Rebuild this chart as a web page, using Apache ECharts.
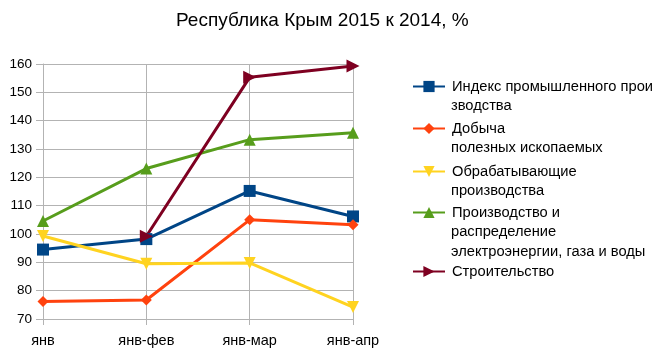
<!DOCTYPE html>
<html><head><meta charset="utf-8">
<script src="https://cdn.jsdelivr.net/npm/echarts@6/dist/echarts.min.js"></script>
<style>html,body{margin:0;padding:0;background:#fff}#c{width:667px;height:359px}</style>
</head><body><div id="c"></div>
<script>
var categories = ['янв', 'янв-фев', 'янв-мар', 'янв-апр'];
var seriesNames = [
  ['Индекс промышленного прои', 'зводства'],
  ['Добыча', 'полезных ископаемых'],
  ['Обрабатывающие', 'производства'],
  ['Производство и', 'распределение', 'электроэнергии, газа и воды'],
  ['Строительство']
];
var industryIndex = [94.5, 98.2, 115.2, 106.2];
var mining = [76.2, 76.7, 105, 103.3];
var manufacturing = [99.3, 89.5, 89.8, 74.2];
var electricity = [104.6, 123.1, 133.3, 135.7];
var construction = [null, 99.2, 155.3, 159.3];
var yTicks = [70, 160, 10];

var colors = ['#004586', '#ff420e', '#ffd320', '#579d1c', '#7e0021'];
var symbols = ['rect', 'diamond', 'triangle', 'triangle', 'triangle'];
var rotations = [0, 0, 180, 0, -90];
var symSizes = [12, 11, 12, 12, 13];
var dataSets = [industryIndex, mining, manufacturing, electricity, construction];
var legendTops = [86, 128, 171, 212, 271];
var font = '"Liberation Sans", Arial, sans-serif';

var series = dataSets.map(function (d, i) {
  return {
    name: seriesNames[i][0],
    type: 'line',
    data: d,
    symbol: symbols[i],
    symbolRotate: rotations[i],
    symbolSize: symSizes[i],
    showAllSymbol: true,
    connectNulls: false,
    lineStyle: { width: 3, color: colors[i] },
    itemStyle: { color: colors[i] },
    emphasis: { disabled: true },
    animation: false
  };
});

var legends = seriesNames.map(function (n, i) {
  return {
    data: [n[0]],
    left: 412,
    top: legendTops[i] - 7,
    padding: 0,
    itemWidth: 32,
    itemHeight: 14,
    itemGap: 0,
    selectedMode: false,
    textStyle: { fontFamily: font, fontSize: 14.7, color: '#000', padding: [0, 0, 0, 2] }
  };
});

var graphics = [];
seriesNames.forEach(function (n, i) {
  for (var k = 1; k < n.length; k++) {
    graphics.push({
      type: 'text',
      left: 451,
      top: legendTops[i] + 20 * k - 8,
      style: { text: n[k], font: '14.7px ' + font, fill: '#000' }
    });
  }
});

var chart = echarts.init(document.getElementById('c'));
chart.setOption({
  animation: false,
  color: colors,
  title: {
    text: 'Республика Крым 2015 к 2014, %',
    left: 171,
    top: 6,
    textStyle: { fontFamily: font, fontSize: 19, fontWeight: 'normal', color: '#000' }
  },
  legend: legends,
  graphic: graphics,
  grid: { left: 43, right: 314, top: 64, bottom: 40, containLabel: false },
  xAxis: {
    type: 'category',
    data: categories,
    boundaryGap: false,
    axisLine: { show: true, lineStyle: { color: '#b3b3b3', width: 1 } },
    axisTick: { show: true, length: 6, lineStyle: { color: '#b3b3b3' }, alignWithLabel: true },
    splitLine: { show: true, lineStyle: { color: '#b3b3b3', width: 1 } },
    axisLabel: { fontFamily: font, fontSize: 14.5, color: '#000', margin: 14 }
  },
  yAxis: {
    type: 'value',
    min: yTicks[0],
    max: yTicks[1],
    interval: yTicks[2],
    axisLine: { show: true, lineStyle: { color: '#b3b3b3' } },
    axisTick: { show: true, length: 7, lineStyle: { color: '#b3b3b3' } },
    splitLine: { show: true, lineStyle: { color: '#b3b3b3', width: 1 } },
    axisLabel: { fontFamily: font, fontSize: 13.5, color: '#000', margin: 11 }
  },
  series: series
});
</script>
</body></html>
